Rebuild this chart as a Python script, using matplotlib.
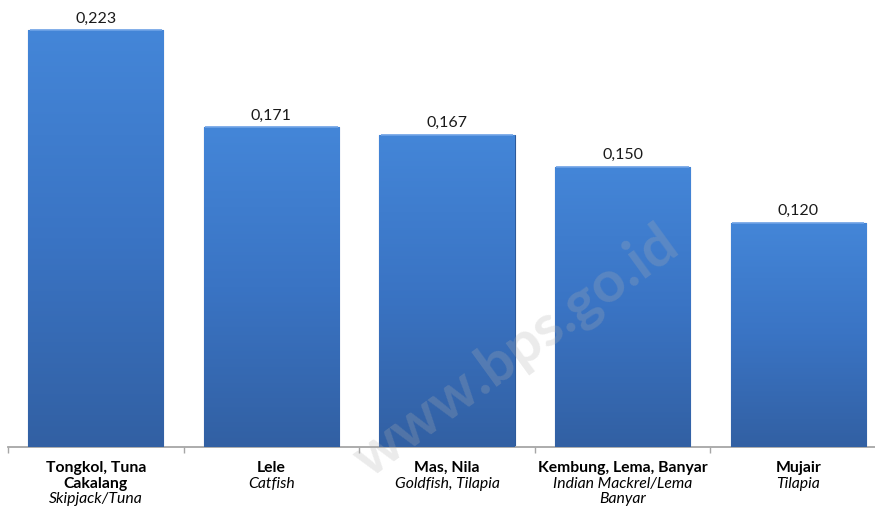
import matplotlib
matplotlib.use("Agg")
import matplotlib.pyplot as plt
import matplotlib.transforms as mtransforms
from matplotlib.colors import LinearSegmentedColormap
import numpy as np

# data
names_id = [["Tongkol, Tuna", "Cakalang"], ["Lele"], ["Mas, Nila"],
            ["Kembung, Lema, Banyar"], ["Mujair"]]
names_en = [["Skipjack/Tuna"], ["Catfish"], ["Goldfish, Tilapia"],
            ["Indian Mackrel/Lema", "Banyar"], ["Tilapia"]]
values = [0.223, 0.171, 0.167, 0.150, 0.120]

plt.rcParams["font.family"] = ["Lato", "DejaVu Sans"]

fig = plt.figure(figsize=(8.75, 5.1), dpi=100)
# axis runs from x=8px to past the right edge (the source picture is cropped)
ax = fig.add_axes([8 / 875, 62 / 510, 878 / 875, 448 / 510])

x = np.arange(len(values))
width = 0.77
bars = ax.bar(x, values, width, color="#3a72c0", edgecolor="#2d5a9a", linewidth=0.8, zorder=2)

# vertical gradient inside each bar, lighter at the top
cmap = LinearSegmentedColormap.from_list("bar", ["#3260a3", "#3a74c4", "#4486d8"])
grad = np.linspace(0, 1, 256).reshape(-1, 1)
for b in bars:
    x0, w, h = b.get_x(), b.get_width(), b.get_height()
    im = ax.imshow(grad, cmap=cmap, origin="lower", aspect="auto",
                   extent=(x0, x0 + w, 0, h), zorder=3)
    im.set_clip_path(b)
    # thin light highlight along the top
    ax.plot([x0 + w * 0.01, x0 + w * 0.99], [h, h], color="#6fa3e6", lw=1.2, zorder=4,
            solid_capstyle="butt")

ax.set_xlim(-0.5, len(values) - 0.5)
ax.set_ylim(0, 0.2396)
ax.set_aspect("auto")

# value labels above bars, decimal comma
for xi, v in zip(x, values):
    ax.annotate(f"{v:.3f}".replace(".", ","), (xi, v), xytext=(0, 4),
                textcoords="offset points", ha="center", va="bottom",
                fontsize=11.5, color="#1a1a1a")

# category labels: bold Indonesian name, italic English name
trans = mtransforms.blended_transform_factory(ax.transData, ax.transAxes)
for xi, ind, eng in zip(x, names_id, names_en):
    lines = [(t, "bold", "normal") for t in ind] + [(t, "normal", "italic") for t in eng]
    for k, (t, wgt, sty) in enumerate(lines):
        ax.annotate(t, (xi, 0), xycoords=trans, xytext=(0, -14.4 - 11.2 * k),
                    textcoords="offset points", ha="center", va="center",
                    fontsize=11.3, fontweight=wgt, fontstyle=sty, color="black")

# axis styling
for s in ["top", "right", "left"]:
    ax.spines[s].set_visible(False)
ax.spines["bottom"].set_color("#a6a6a6")
ax.spines["bottom"].set_linewidth(1.3)
ax.set_yticks([])
ax.set_xticks(np.arange(len(values) + 1) - 0.5)
ax.tick_params(axis="x", length=4, color="#a6a6a6", width=1, labelbottom=False)

# faint watermark
fig.text(0.59, 0.31, "www.bps.go.id", rotation=36, fontsize=42, fontweight="bold",
         color="#b0b0b0", alpha=0.25, ha="center", va="center", zorder=10)

fig.savefig("out.png", dpi=100)
